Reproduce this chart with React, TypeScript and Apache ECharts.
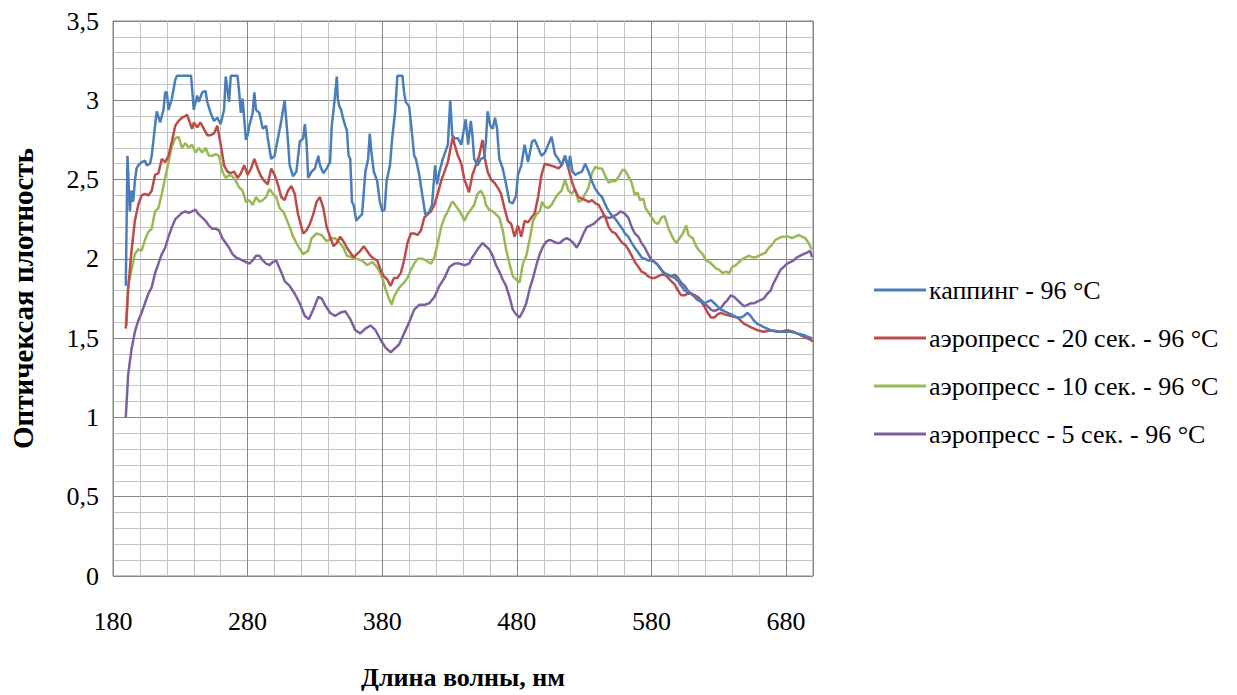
import React, { useEffect, useRef } from "react";
import * as echarts from "echarts";

const seriesNames = [
  "каппинг - 96 °C",
  "аэропресс - 20 сек. - 96 °C",
  "аэропресс - 10 сек. - 96 °C",
  "аэропресс - 5 сек. - 96 °C",
];

const seriesColors = ["#4A7EBB", "#BE4B48", "#98B954", "#7D60A0"];

const xTitle = "Длина волны, нм";
const yTitle = "Оптичексая плотность";

// каппинг - 96 °C : [nm, optical density]
const kapping: [number, number][] = [
  [189.5, 1.83], [190.75, 2.65], [192.5, 2.3], [193.75, 2.43], [195, 2.36], [196.25, 2.49], [197.5, 2.57],
  [198.75, 2.59], [201.25, 2.61], [203.75, 2.62], [205, 2.59], [207.5, 2.6], [208.75, 2.65], [211.25, 2.84],
  [212.5, 2.93], [215, 2.86], [217.5, 2.94], [218.75, 3.05], [220, 3.05], [221.25, 2.94], [223.75, 3.01],
  [226.25, 3.13], [227.5, 3.155], [238, 3.155], [240, 2.94], [242.5, 3.03], [243.75, 2.99], [246.25, 3.05],
  [248.75, 3.06], [250, 2.99], [252.5, 2.92], [255, 2.87], [257.5, 2.89], [260, 2.85], [262.5, 2.94],
  [263.75, 3.15], [265, 3.07], [266.25, 2.99], [267.5, 3.155], [272.5, 3.155], [273.75, 3.05], [275, 2.92],
  [276.25, 3.01], [278.75, 2.75], [280, 2.78], [281.25, 2.84], [283.75, 2.92], [285, 3.05], [286.25, 2.94],
  [288.75, 2.92], [291.25, 2.82], [293.75, 2.84], [295, 2.76], [297.5, 2.63], [300, 2.65], [302.5, 2.76],
  [305, 2.87], [307.5, 3.0], [310, 2.74], [311.25, 2.59], [313.75, 2.52], [316.25, 2.55], [318.75, 2.74],
  [321.25, 2.76], [322.5, 2.85], [323.75, 2.74], [325, 2.51], [327.5, 2.55], [330, 2.57], [332.5, 2.65],
  [333.75, 2.59], [336.25, 2.54], [338.75, 2.57], [341.25, 2.61], [342.5, 2.84], [344.5, 2.99], [346.25, 3.15],
  [347, 3.01], [348.25, 2.96], [349.5, 2.94], [350.75, 2.89], [352.5, 2.84], [353.75, 2.81], [355, 2.65],
  [356.25, 2.63], [357.5, 2.36], [358.75, 2.34], [360.75, 2.24], [362.5, 2.26], [365, 2.28], [367.5, 2.55],
  [369.5, 2.63], [370.75, 2.79], [372, 2.67], [373.75, 2.55], [376.25, 2.49], [378.25, 2.36], [380, 2.3],
  [381.75, 2.31], [383.25, 2.49], [385.75, 2.59], [387.5, 2.77], [389.5, 2.92], [391.25, 3.155], [395, 3.155],
  [396.25, 3.05], [397.5, 2.99], [400, 2.96], [402, 2.8], [403.75, 2.65], [405, 2.63], [407.5, 2.53],
  [410, 2.39], [412, 2.28], [414.5, 2.29], [417, 2.34], [419.25, 2.59], [420.75, 2.47], [422.5, 2.55],
  [425, 2.63], [428.75, 2.72], [430.5, 3.0], [432, 2.78], [433.75, 2.76], [436.25, 2.76], [438.75, 2.72],
  [439.5, 2.76], [442, 2.88], [443.8, 2.72], [445.8, 2.87], [447, 2.78], [448.3, 2.63], [450.8, 2.59],
  [453.3, 2.63], [455.8, 2.64], [457, 2.74], [458.3, 2.93], [460.3, 2.84], [462, 2.82], [463.8, 2.89],
  [465.3, 2.82], [467, 2.63], [469.5, 2.57], [472, 2.47], [474.5, 2.36], [477, 2.35], [479.5, 2.4],
  [480.8, 2.53], [483.3, 2.59], [485.8, 2.72], [488.3, 2.61], [491.3, 2.74], [493.3, 2.75], [495.8, 2.7],
  [498.3, 2.65], [500.8, 2.67], [503.3, 2.72], [505.8, 2.77], [508.3, 2.66], [510.8, 2.63], [513.3, 2.59],
  [515.8, 2.65], [518.3, 2.57], [519.5, 2.65], [521.3, 2.55], [523.3, 2.53], [525.8, 2.54], [528.3, 2.55],
  [530.8, 2.6], [533.3, 2.55], [535.8, 2.49], [538.3, 2.44], [540.8, 2.41], [543.3, 2.39], [545.8, 2.34],
  [548.3, 2.3], [550.8, 2.27], [553.3, 2.25], [555.8, 2.22], [558.3, 2.19], [560.3, 2.16], [562.8, 2.14],
  [565.3, 2.1], [567.7, 2.07], [570.2, 2.04], [572.6, 2.01], [575.1, 2.0], [577.5, 1.99], [580, 1.99],
  [582.5, 1.98], [584.9, 1.96], [587.4, 1.93], [589.8, 1.91], [592.3, 1.9], [594.7, 1.89], [597.2, 1.88],
  [599.7, 1.86], [602.1, 1.83], [604.6, 1.8], [607, 1.79], [609.5, 1.78], [612, 1.76], [614.4, 1.74],
  [616.9, 1.73], [619.3, 1.72], [621.8, 1.73], [624.2, 1.74], [626.7, 1.72], [629.1, 1.7], [631.6, 1.68],
  [634.1, 1.67], [636.5, 1.66], [639, 1.65], [641.4, 1.64], [643.9, 1.63], [646.3, 1.63], [648.8, 1.64],
  [651.3, 1.66], [653.7, 1.64], [656.2, 1.61], [658.6, 1.59], [661.1, 1.58], [663.5, 1.57], [666, 1.56],
  [668.5, 1.55], [673.4, 1.54], [678.3, 1.54], [683.2, 1.54], [688.1, 1.53], [693, 1.52], [695.5, 1.51],
  [699.2, 1.5],
];

// аэропресс - 20 сек. - 96 °C
const aero20: [number, number][] = [
  [189.5, 1.56], [191.25, 1.81], [193.75, 2.05], [196.25, 2.24], [198.75, 2.34], [201.25, 2.4], [203.75, 2.41],
  [206.25, 2.4], [208.75, 2.43], [211.25, 2.53], [213.75, 2.54], [216.25, 2.63], [218.75, 2.61], [221.25, 2.65],
  [223.75, 2.74], [226.25, 2.84], [228.75, 2.87], [231.25, 2.89], [233.75, 2.9], [235, 2.91], [236.25, 2.88],
  [238.75, 2.82], [240, 2.86], [242.5, 2.83], [245, 2.86], [247.5, 2.82], [250, 2.78], [252.5, 2.78],
  [255, 2.79], [257.5, 2.84], [260, 2.72], [262.5, 2.59], [265, 2.55], [267.5, 2.54], [270, 2.55],
  [272.5, 2.51], [275, 2.54], [277.5, 2.59], [280, 2.53], [282.5, 2.57], [285, 2.63], [287.5, 2.57],
  [290, 2.52], [292.5, 2.49], [295, 2.47], [297.5, 2.57], [300, 2.53], [302.5, 2.47], [305, 2.39],
  [307.5, 2.37], [310, 2.43], [312.5, 2.46], [315, 2.41], [317.5, 2.28], [321.25, 2.16], [323.75, 2.18],
  [326.25, 2.22], [328.75, 2.28], [331.25, 2.36], [333.75, 2.39], [336.25, 2.32], [338.75, 2.2],
  [341.25, 2.14], [343.75, 2.08], [346.25, 2.1], [348.75, 2.14], [351.25, 2.11], [353.75, 2.07],
  [356.25, 2.04], [358.75, 2.01], [361.25, 2.03], [363.75, 2.05], [366.25, 2.08], [368.75, 2.05],
  [371.25, 2.02], [373.75, 2.0], [376.25, 1.99], [378.75, 1.93], [381.25, 1.89], [383.75, 1.87],
  [386.25, 1.83], [388.75, 1.88], [391.25, 1.88], [393.75, 1.91], [396.25, 1.99], [398.75, 2.1],
  [401.25, 2.16], [403.75, 2.16], [406.25, 2.15], [408.75, 2.18], [411.25, 2.26], [413.75, 2.28],
  [416.25, 2.3], [418.75, 2.34], [421.25, 2.41], [423.75, 2.49], [426.25, 2.55], [428.75, 2.61],
  [431.25, 2.72], [432.5, 2.77], [433.75, 2.72], [436.25, 2.65], [438.75, 2.6], [441.25, 2.49],
  [442, 2.48], [444.5, 2.42], [447, 2.53], [449.5, 2.59], [452, 2.65], [454.5, 2.75], [456.3, 2.63],
  [458.3, 2.55], [460.8, 2.5], [463.3, 2.48], [465.8, 2.45], [468.3, 2.41], [470.8, 2.32], [473.3, 2.24],
  [475.8, 2.22], [478.3, 2.14], [480.8, 2.21], [483.3, 2.14], [485.8, 2.24], [488.3, 2.23], [490.8, 2.26],
  [493.3, 2.29], [495.8, 2.39], [498.3, 2.53], [500.8, 2.6], [504.5, 2.59], [508.3, 2.58], [510.8, 2.57],
  [513.3, 2.59], [515.8, 2.65], [518.3, 2.57], [520.8, 2.49], [523.3, 2.43], [525.8, 2.39], [528.3, 2.38],
  [530.8, 2.37], [533.3, 2.36], [535.8, 2.37], [538.3, 2.35], [540.8, 2.34], [543.3, 2.3], [545.8, 2.26],
  [548.3, 2.2], [550.8, 2.17], [553.3, 2.16], [555.8, 2.13], [558.3, 2.1], [560.3, 2.09], [562.8, 2.06],
  [565.3, 2.02], [567.7, 1.98], [570.2, 1.95], [572.6, 1.92], [575.1, 1.91], [577.5, 1.89], [580, 1.88],
  [582.5, 1.88], [584.9, 1.89], [587.4, 1.9], [589.8, 1.9], [592.3, 1.88], [594.7, 1.86], [597.2, 1.84],
  [599.7, 1.8], [602.1, 1.77], [604.6, 1.77], [607, 1.78], [609.5, 1.78], [612, 1.77], [614.4, 1.75],
  [616.9, 1.73], [619.3, 1.7], [621.8, 1.66], [624.2, 1.63], [626.7, 1.63], [629.1, 1.65], [631.6, 1.66],
  [634.1, 1.65], [639, 1.64], [643.9, 1.63], [646.3, 1.61], [648.8, 1.59], [651.3, 1.58], [653.7, 1.57],
  [656.2, 1.56], [658.6, 1.55], [663.5, 1.54], [668.5, 1.55], [675.8, 1.54], [680.7, 1.55], [685.7, 1.54],
  [688.1, 1.53], [690.6, 1.52], [693, 1.51], [695.5, 1.5], [697.9, 1.49], [700, 1.48],
];

// аэропресс - 10 сек. - 96 °C
const aero10: [number, number][] = [
  [190, 1.58], [191.25, 1.83], [193.75, 1.93], [196.25, 2.03], [198.75, 2.06], [201.25, 2.05], [203.75, 2.12],
  [206.25, 2.17], [208.75, 2.19], [211.25, 2.3], [213.75, 2.32], [216.25, 2.41], [218.75, 2.51], [221.25, 2.61],
  [223.75, 2.71], [226.25, 2.76], [228.75, 2.77], [231.25, 2.7], [233.75, 2.73], [236.25, 2.7], [238.75, 2.72],
  [241.25, 2.67], [243.75, 2.7], [246.25, 2.67], [248.75, 2.7], [251.25, 2.65], [253.75, 2.65], [256.25, 2.66],
  [258.75, 2.65], [261.25, 2.55], [263.75, 2.51], [266.25, 2.53], [268.75, 2.52], [271.25, 2.49], [273.75, 2.45],
  [276.25, 2.43], [278.75, 2.36], [281.25, 2.37], [283.75, 2.34], [286.25, 2.39], [288.75, 2.36], [291.25, 2.37],
  [293.75, 2.39], [296.25, 2.44], [298.75, 2.41], [301.25, 2.39], [303.75, 2.32], [306.25, 2.3], [307.5, 2.28],
  [311.25, 2.2], [313.75, 2.14], [317.5, 2.08], [321.25, 2.03], [325, 2.05], [327.5, 2.13], [331.25, 2.16],
  [335, 2.15], [338.75, 2.11], [342.5, 2.13], [345, 2.13], [347.5, 2.11], [351.25, 2.07], [353.75, 2.02],
  [357.5, 2.01], [361.25, 2.0], [365, 1.99], [368.75, 1.96], [372.5, 1.98], [375, 1.96], [377.5, 1.93],
  [380, 1.88], [382.5, 1.81], [385, 1.75], [387, 1.71], [388.75, 1.76], [391.25, 1.8], [393.75, 1.83],
  [396.25, 1.85], [398.75, 1.88], [401.25, 1.93], [403.75, 1.97], [406.25, 2.0], [410, 2.0], [412.5, 1.99],
  [416.25, 1.97], [418.75, 2.01], [421.25, 2.1], [423.75, 2.2], [426.25, 2.26], [428.75, 2.3], [431.25, 2.35],
  [432.5, 2.36], [435, 2.33], [437.5, 2.3], [440, 2.26], [440.8, 2.24], [443.3, 2.28], [445.8, 2.31],
  [448.3, 2.34], [450.8, 2.41], [453.3, 2.43], [455.8, 2.39], [457, 2.34], [459.5, 2.31], [462, 2.3],
  [464.5, 2.28], [467, 2.26], [469.5, 2.18], [472, 2.06], [474.5, 1.97], [477, 1.89], [479.5, 1.87],
  [482, 1.85], [484.5, 1.97], [487, 2.02], [489.5, 2.12], [492, 2.24], [494.5, 2.28], [497, 2.3],
  [498.8, 2.36], [500.8, 2.33], [503.3, 2.32], [505.8, 2.34], [508.3, 2.38], [510.8, 2.41], [513.3, 2.43],
  [515.8, 2.5], [518.3, 2.43], [520.8, 2.41], [523.3, 2.44], [525.8, 2.36], [528.3, 2.37], [530.8, 2.41],
  [533.3, 2.45], [535.8, 2.54], [538.3, 2.58], [540.8, 2.57], [543.3, 2.57], [545.8, 2.52], [548.3, 2.48],
  [550.8, 2.49], [553.3, 2.49], [555.8, 2.52], [558.3, 2.56], [560.3, 2.56], [562.8, 2.52], [565.3, 2.48],
  [567.7, 2.4], [569.7, 2.42], [571.4, 2.37], [573.9, 2.38], [575.6, 2.32], [578.8, 2.28], [582.5, 2.23],
  [584.9, 2.22], [587.4, 2.26], [589.8, 2.27], [592.3, 2.2], [596, 2.13], [598.4, 2.1], [600.9, 2.13],
  [603.3, 2.16], [605.8, 2.21], [607.5, 2.15], [610.7, 2.13], [613.2, 2.08], [615.6, 2.05], [618.1, 2.03],
  [620.5, 1.99], [623, 1.98], [625.5, 1.96], [627.9, 1.94], [630.4, 1.93], [632.8, 1.91], [635.3, 1.92],
  [637.7, 1.91], [640.2, 1.95], [642.7, 1.96], [645.1, 1.98], [647.6, 2.0], [650, 2.01], [652.5, 2.02],
  [654.9, 2.01], [657.4, 2.01], [659.9, 2.02], [662.3, 2.03], [664.8, 2.04], [667.2, 2.07], [669.7, 2.09],
  [672.1, 2.12], [674.6, 2.13], [677.1, 2.14], [679.5, 2.14], [682, 2.14], [684.4, 2.13], [686.9, 2.14],
  [689.3, 2.15], [691.8, 2.14], [694.3, 2.13], [696.7, 2.1], [699.2, 2.06],
];

// аэропресс - 5 сек. - 96 °C
const aero5: [number, number][] = [
  [189.5, 1.0], [191.25, 1.27], [193.75, 1.43], [196.25, 1.54], [198.75, 1.61], [201.25, 1.66], [203.75, 1.72],
  [206.25, 1.78], [208.75, 1.82], [211.25, 1.91], [213.75, 1.97], [216.25, 2.03], [218.75, 2.07], [221.25, 2.14],
  [223.75, 2.2], [226.25, 2.25], [228.75, 2.27], [231.25, 2.29], [233.75, 2.3], [236.25, 2.29], [238.75, 2.3],
  [241.25, 2.31], [243.75, 2.28], [246.25, 2.26], [248.75, 2.24], [251.25, 2.21], [253.75, 2.19], [256.25, 2.19],
  [258.75, 2.18], [261.25, 2.13], [263.75, 2.1], [266.25, 2.07], [268.75, 2.03], [271.25, 2.01], [273.75, 2.0],
  [276.25, 1.99], [278.75, 1.98], [281.25, 1.97], [283.75, 1.99], [286.25, 2.02], [288.75, 2.02], [291.25, 1.99],
  [293.75, 1.97], [296.25, 1.96], [298.75, 1.98], [301.25, 1.99], [303.75, 1.94], [306.25, 1.89], [307.5, 1.86],
  [311.25, 1.83], [315, 1.78], [318.75, 1.72], [322.5, 1.64], [325.5, 1.62], [328.75, 1.68], [332.5, 1.76],
  [335, 1.75], [337.5, 1.71], [341.25, 1.66], [345, 1.64], [348.75, 1.66], [352.5, 1.67], [356.25, 1.62],
  [360, 1.55], [363.75, 1.53], [367.5, 1.56], [371.25, 1.58], [375, 1.55], [378.75, 1.49], [382.5, 1.44],
  [386.25, 1.41], [388.75, 1.43], [392.5, 1.46], [396.25, 1.53], [400, 1.6], [403.75, 1.68], [407.5, 1.71],
  [411.25, 1.71], [415, 1.72], [418.75, 1.76], [422.5, 1.83], [426.25, 1.88], [430, 1.95], [433.75, 1.97],
  [437.5, 1.97], [441.25, 1.96], [444.5, 1.97], [447, 2.01], [450.8, 2.06], [454.5, 2.1], [457, 2.08],
  [459.5, 2.06], [462, 2.02], [464.5, 1.96], [467, 1.92], [469.5, 1.87], [472, 1.83], [474.5, 1.76],
  [477, 1.68], [479.5, 1.65], [482, 1.63], [484.5, 1.67], [487, 1.72], [489.5, 1.81], [492, 1.88],
  [494.5, 1.96], [497, 2.03], [499.5, 2.08], [502, 2.11], [504.5, 2.12], [507, 2.11], [509.5, 2.1],
  [512, 2.1], [514.5, 2.12], [517, 2.13], [519.5, 2.12], [522, 2.1], [524.5, 2.07], [527, 2.11],
  [529.5, 2.16], [532, 2.2], [534.5, 2.21], [537, 2.22], [539.5, 2.24], [542, 2.26], [544.5, 2.27],
  [547, 2.26], [549.5, 2.26], [552, 2.27], [554.5, 2.28], [557, 2.3], [559.5, 2.29], [562.8, 2.26],
  [565.3, 2.2], [567.7, 2.16], [570.2, 2.14], [572.6, 2.1], [575.1, 2.07], [577.5, 2.03], [580, 1.99],
  [582.5, 1.98], [584.9, 1.96], [587.4, 1.93], [589.8, 1.9], [594.7, 1.89], [597.2, 1.9], [599.7, 1.88],
  [602.1, 1.85], [604.6, 1.83], [607, 1.8], [609.5, 1.78], [612, 1.77], [614.4, 1.76], [616.9, 1.74],
  [619.3, 1.72], [621.8, 1.7], [624.2, 1.68], [626.7, 1.67], [629.1, 1.68], [631.6, 1.69], [634.1, 1.72],
  [636.5, 1.74], [639, 1.77], [641.4, 1.76], [643.9, 1.74], [646.3, 1.72], [648.8, 1.7], [651.3, 1.71],
  [653.7, 1.72], [656.2, 1.72], [658.6, 1.73], [661.1, 1.74], [663.5, 1.75], [666, 1.78], [668.5, 1.8],
  [670.9, 1.85], [673.4, 1.89], [675.8, 1.93], [678.3, 1.95], [680.7, 1.97], [683.2, 1.98], [685.7, 1.99],
  [688.1, 2.01], [690.6, 2.02], [693, 2.03], [695.5, 2.04], [697.9, 2.05], [699.2, 2.01],
];

const allSeries = [kapping, aero20, aero10, aero5];

const FONT = '"Liberation Serif", "Times New Roman", serif';

export default function App() {
  const ref = useRef<HTMLDivElement>(null);

  useEffect(() => {
    if (!ref.current) return;
    const chart = echarts.init(ref.current, null, { renderer: "svg" });
    chart.setOption({
      animation: false,
      backgroundColor: "#ffffff",
      textStyle: { fontFamily: FONT },
      grid: {
        left: 113,
        top: 21,
        width: 700,
        height: 562,
        show: true,
        borderColor: "#868686",
        borderWidth: 1,
        containLabel: false,
      },
      legend: {
        orient: "vertical",
        left: 874,
        top: 277,
        padding: 0,
        icon: "rect",
        itemWidth: 52,
        itemHeight: 3,
        itemGap: 22,
        data: seriesNames,
        textStyle: { fontFamily: FONT, fontSize: 26, color: "#000000", padding: [0, 0, 0, -2] },
      },
      xAxis: {
        type: "value",
        min: 180,
        max: 700,
        interval: 100,
        name: xTitle,
        nameLocation: "middle",
        nameGap: 88,
        nameTextStyle: { fontFamily: FONT, fontSize: 26, fontWeight: "bold", color: "#000000" },
        axisLine: { show: false },
        axisTick: { show: false },
        axisLabel: {
          showMaxLabel: false,
          margin: 32,
          fontFamily: FONT,
          fontSize: 26,
          color: "#000000",
        },
        splitLine: { show: true, lineStyle: { color: "#868686", width: 1 } },
        minorTick: { show: false, splitNumber: 5 },
        minorSplitLine: { show: true, lineStyle: { color: "#c4c4c4", width: 1 } },
      },
      yAxis: {
        type: "value",
        min: 0,
        max: 3.5,
        interval: 0.5,
        name: yTitle,
        nameLocation: "middle",
        nameGap: 76,
        nameRotate: 90,
        nameTextStyle: { fontFamily: FONT, fontSize: 29, fontWeight: "bold", color: "#000000" },
        axisLine: { show: false },
        axisTick: { show: false },
        axisLabel: {
          margin: 14,
          fontFamily: FONT,
          fontSize: 26,
          color: "#000000",
          formatter: (v: number) => String(v).replace(".", ","),
        },
        splitLine: { show: true, lineStyle: { color: "#868686", width: 1 } },
        minorTick: { show: false, splitNumber: 5 },
        minorSplitLine: { show: true, lineStyle: { color: "#c4c4c4", width: 1 } },
      },
      series: allSeries.map((d, i) => ({
        name: seriesNames[i],
        type: "line",
        data: d,
        symbol: "none",
        showSymbol: false,
        smooth: false,
        color: seriesColors[i],
        lineStyle: { color: seriesColors[i], width: 2.5 },
        z: 10 - i,
      })),
    });
    return () => chart.dispose();
  }, []);

  return (
    <div
      ref={ref}
      style={{ position: "fixed", left: 0, top: 0, width: 1237, height: 695 }}
    />
  );
}
